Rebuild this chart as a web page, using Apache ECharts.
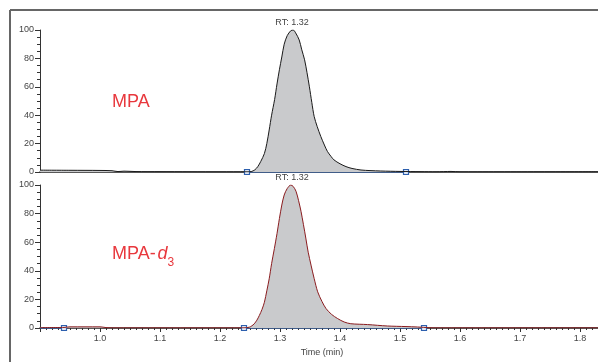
<!DOCTYPE html>
<html><head><meta charset="utf-8">
<script src="https://cdn.jsdelivr.net/npm/echarts@6/dist/echarts.min.js"></script>
<style>html,body{margin:0;padding:0;background:#fff}#c{width:598px;height:362px}</style>
</head><body><div id="c"></div>
<script>
// ---- data (retention time in min, relative abundance %) ----
const mpaTime = [0.900,0.950,1.000,1.020,1.030,1.040,1.060,1.100,1.200,1.245,1.252,1.258,1.263,1.268,1.274,1.278,1.282,1.286,1.291,1.295,1.299,1.303,1.307,1.312,1.318,1.322,1.326,1.332,1.336,1.341,1.345,1.349,1.353,1.357,1.362,1.368,1.374,1.379,1.385,1.390,1.400,1.410,1.420,1.435,1.450,1.468,1.500,1.535,1.560,1.585,1.600,1.830];
const mpaValue = [1.3,1.2,1.1,0.9,0.3,0.6,0.3,0.2,0.1,0.1,0.3,1.5,3.8,7.5,13,20,29.6,40,51,62,72,81,90,96,99.5,100,98,93,86.5,79,70,60,49,39,32,25,19,14.5,11,8.5,5.8,3.8,2.5,1.4,1.0,0.7,0.4,0.2,0.1,0.4,0.1,0.1];
const d3Time = [0.900,0.940,0.950,1.000,1.010,1.020,1.100,1.240,1.249,1.253,1.257,1.2615,1.2655,1.270,1.274,1.278,1.282,1.286,1.2906,1.295,1.299,1.303,1.307,1.312,1.318,1.322,1.3267,1.331,1.335,1.339,1.343,1.347,1.3517,1.357,1.3628,1.370,1.3767,1.386,1.396,1.407,1.418,1.446,1.479,1.510,1.529,1.550,1.560,1.830];
const d3Value = [0.3,0.4,0.8,0.8,0.3,0.1,0.1,0.1,0.6,1.5,2.9,5.5,8.7,13,18,26,34.4,45,55.5,66,76.5,86,93,97.5,100,99,95.6,89,81.6,72.5,62.9,53,44,34.5,25.3,18.5,13.6,9.5,6.6,4.2,3.0,2.4,1.4,1.0,0.7,0.2,0.1,0.1];
const mpaIntegration = [1.245, 1.510];
const d3Integration = [1.240, 1.540];
const d3PreIntegration = [0.900, 0.940];
const rtMPA = 1.32, rtD3 = 1.32;
const yTicks = [0, 20, 40, 60, 80, 100];
const xMin = 0.9, xMax = 1.83;

const FONT = 'Liberation Sans, Arial, sans-serif';
const zip = (a, b) => a.map((t, i) => [t, b[i]]);

const chart = echarts.init(document.getElementById('c'), null, {renderer: 'canvas'});

function yAxis(gridIndex) {
  return {
    type: 'value', gridIndex, min: yTicks[0], max: yTicks[yTicks.length - 1], interval: 20,
    axisLine: {show: true, lineStyle: {color: '#333', width: 1}},
    axisTick: {show: true, length: 5, lineStyle: {color: '#333'}},
    minorTick: {show: true, splitNumber: 4, length: 3, lineStyle: {color: '#333'}},
    axisLabel: {fontFamily: FONT, fontSize: 9, color: '#444', margin: 6},
    splitLine: {show: false}
  };
}

const markerStyle = {color: '#dfe6f2', borderColor: '#2d5fae', borderWidth: 1.2};

function integ(xIdx, yIdx, pts, firstHidden) {
  return {
    type: 'line', xAxisIndex: xIdx, yAxisIndex: yIdx, z: 1,
    data: pts.map((t, i) => (firstHidden && i === 0) ? {value: [t, 0], symbol: 'none'} : [t, 0]),
    symbol: 'rect', symbolSize: 5, showSymbol: true,
    lineStyle: {color: '#2d5fae', width: 1.5},
    itemStyle: markerStyle, silent: true, animation: false
  };
}

chart.setOption({
  animation: false,
  grid: [
    {left: 40, right: 0, top: 30, height: 142},
    {left: 40, right: 0, top: 185, height: 143}
  ],
  xAxis: [
    {type: 'value', gridIndex: 0, min: xMin, max: xMax,
     axisLine: {show: true, onZero: false, lineStyle: {color: '#222', width: 1.5}},
     axisTick: {show: false}, axisLabel: {show: false}, splitLine: {show: false}},
    {type: 'value', gridIndex: 1, min: xMin, max: xMax, interval: 0.1,
     axisLine: {show: true, onZero: false, lineStyle: {color: '#222', width: 1.5}},
     axisTick: {show: true, length: 4, lineStyle: {color: '#333'}},
     minorTick: {show: true, splitNumber: 10, length: 2, lineStyle: {color: '#333'}},
     axisLabel: {fontFamily: FONT, fontSize: 9, color: '#444', margin: 6, showMinLabel: false, showMaxLabel: false,
                 formatter: v => v.toFixed(1)},
     splitLine: {show: false},
     name: 'Time (min)', nameLocation: 'middle', nameGap: 20,
     nameTextStyle: {fontFamily: FONT, fontSize: 9, color: '#444', padding: [0, 0, 0, 6]}}
  ],
  yAxis: [yAxis(0), yAxis(1)],
  series: [
    integ(0, 0, mpaIntegration, false),
    {
      type: 'line', xAxisIndex: 0, yAxisIndex: 0, z: 3,
      data: zip(mpaTime, mpaValue), showSymbol: false, symbol: 'none', smooth: 0.3,
      lineStyle: {color: '#1a1a1a', width: 1},
      areaStyle: {color: '#c9cacc', opacity: 1},
      markPoint: {symbol: 'circle', symbolSize: 0,
        data: [{coord: [rtMPA, 100], value: 'RT: ' + rtMPA.toFixed(2)}],
        label: {show: true, position: 'top', distance: 3, formatter: '{c}', fontFamily: FONT, fontSize: 9, color: '#444'}}
    },
    integ(1, 1, d3PreIntegration, true),
    integ(1, 1, d3Integration, false),
    {
      type: 'line', xAxisIndex: 1, yAxisIndex: 1, z: 3,
      data: zip(d3Time, d3Value), showSymbol: false, symbol: 'none', smooth: 0.3,
      lineStyle: {color: '#8a1c1f', width: 1},
      areaStyle: {color: '#c9cacc', opacity: 1},
      markPoint: {symbol: 'circle', symbolSize: 0,
        data: [{coord: [rtD3, 100], value: 'RT: ' + rtD3.toFixed(2)}],
        label: {show: true, position: 'top', distance: 3, formatter: '{c}', fontFamily: FONT, fontSize: 9, color: '#444'}}
    }
  ],
  graphic: [
    {type: 'line', shape: {x1: 10, y1: 10, x2: 598, y2: 10}, style: {stroke: '#666', lineWidth: 2}},
    {type: 'line', shape: {x1: 10, y1: 10, x2: 10, y2: 362}, style: {stroke: '#666', lineWidth: 2}},
    {type: 'text', x: 112, y: 102, style: {text: 'MPA', font: '18px ' + FONT, fill: '#e8383d', verticalAlign: 'middle'}},
    {type: 'text', x: 112, y: 254, style: {text: 'MPA-', font: '18px ' + FONT, fill: '#e8383d', verticalAlign: 'middle'}},
    {type: 'text', x: 157.5, y: 254, style: {text: 'd', font: 'italic 18px ' + FONT, fill: '#e8383d', verticalAlign: 'middle'}},
    {type: 'text', x: 167.5, y: 263, style: {text: '3', font: '12px ' + FONT, fill: '#e8383d', verticalAlign: 'middle'}}
  ]
});
</script>
</body></html>
